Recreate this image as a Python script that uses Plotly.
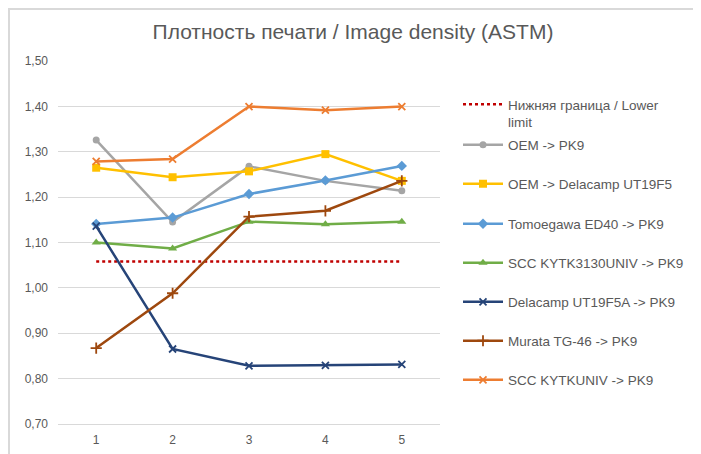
import plotly.graph_objects as go

categories = ["1", "2", "3", "4", "5"]
lower_limit = [1.058, 1.058, 1.058, 1.058, 1.058]
oem_pk9 = [1.326, 1.145, 1.268, 1.236, 1.214]
oem_delacamp = [1.265, 1.244, 1.257, 1.295, 1.236]
tomoegawa = [1.141, 1.155, 1.207, 1.237, 1.269]
scc_kytk3130 = [1.100, 1.087, 1.146, 1.140, 1.146]
delacamp_a = [1.136, 0.865, 0.828, 0.829, 0.831]
murata = [0.867, 0.988, 1.157, 1.170, 1.236]
scc_kytkuniv = [1.279, 1.284, 1.400, 1.392, 1.400]

series = [
    ("Нижняя граница / Lower<br>limit", lower_limit, "#C00000", None, 0),
    ("OEM -> PK9", oem_pk9, "#A5A5A5", "circle", 7),
    ("OEM -> Delacamp UT19F5", oem_delacamp, "#FFC000", "square", 8),
    ("Tomoegawa ED40 -> PK9", tomoegawa, "#5B9BD5", "diamond", 8),
    ("SCC KYTK3130UNIV -> PK9", scc_kytk3130, "#70AD47", "triangle-up", 8),
    ("Delacamp UT19F5A -> PK9", delacamp_a, "#264478", "x-thin-open", 7),
    ("Murata TG-46 -> PK9", murata, "#9E480E", "cross-thin-open", 8),
    ("SCC KYTKUNIV -> PK9", scc_kytkuniv, "#ED7D31", "x-thin-open", 7),
]

# page has an 8px body margin; work in figure pixel coordinates
OFF = 8
W, H = 701, 454
L, R, T, B = 58 - OFF, 440 - OFF, 61 - OFF, 424 - OFF  # plot area pixels
legend_y_px = [104 - OFF - 15, 145 - OFF, 184 - OFF, 224 - OFF, 263 - OFF,
               302 - OFF, 341 - OFF, 380 - OFF]
legend_x_px = 463 - OFF - 5

def py_to_paper(py):
    return (B - py) / (B - T)

def px_to_paper(px):
    return (px - L) / (R - L)

FONT = "Liberation Sans, Arial, sans-serif"

fig = go.Figure()
layout_legends = {}
for i, (name, vals, color, sym, msize) in enumerate(series):
    lname = "legend" if i == 0 else f"legend{i+1}"
    if sym is None:
        fig.add_trace(go.Scatter(x=categories, y=vals, name=name, mode="lines",
                                 line=dict(color=color, width=2.5, dash="dot"),
                                 legend=lname))
    else:
        mk = dict(symbol=sym, size=msize, color=color)
        if "open" in sym:
            mk["line"] = dict(color=color, width=1.8)
        fig.add_trace(go.Scatter(x=categories, y=vals, name=name, mode="lines+markers",
                                 line=dict(color=color, width=2.5),
                                 marker=mk, legend=lname))
    leg = dict(x=px_to_paper(legend_x_px), y=py_to_paper(legend_y_px[i]),
               xanchor="left", yanchor=("top" if i == 0 else "middle"),
               font=dict(family=FONT, size=13.5, color="#595959"),
               bgcolor="rgba(0,0,0,0)", itemwidth=40, valign="top")
    layout_legends[lname] = leg

fig.update_layout(**layout_legends)

fig.update_layout(
    width=W, height=H,
    margin=dict(l=L, r=W - R, t=T, b=H - B, autoexpand=False),
    paper_bgcolor="white", plot_bgcolor="white",
    separators=", ",
    showlegend=True,
    title=dict(text="Плотность печати / Image density (ASTM)",
               x=px_to_paper(353 - OFF), xref="paper", xanchor="center",
               y=1 - (32 - OFF) / H, yanchor="middle",
               font=dict(family=FONT, size=21, color="#595959")),
    font=dict(family=FONT, size=12, color="#595959"),
    xaxis=dict(type="category", range=[-0.5, 4.5], showgrid=False, zeroline=False,
               showline=True, linecolor="#d9d9d9", linewidth=1,
               ticks="", ticklabelstandoff=5,
               tickfont=dict(size=12, color="#595959")),
    yaxis=dict(range=[0.6995, 1.5005], dtick=0.1, tick0=0.7, tickformat=".2f",
               showgrid=True, gridcolor="#d9d9d9", gridwidth=1, zeroline=False,
               showline=False, ticks="", ticklabelstandoff=9,
               tickfont=dict(size=12, color="#595959")),
    shapes=[dict(type="rect", xref="paper", yref="paper",
                 x0=px_to_paper(1), x1=px_to_paper(691),
                 y0=py_to_paper(470), y1=py_to_paper(1),
                 line=dict(color="#d9d9d9", width=2), fillcolor="rgba(0,0,0,0)",
                 layer="below")],
)

fig.write_html("out.html")
